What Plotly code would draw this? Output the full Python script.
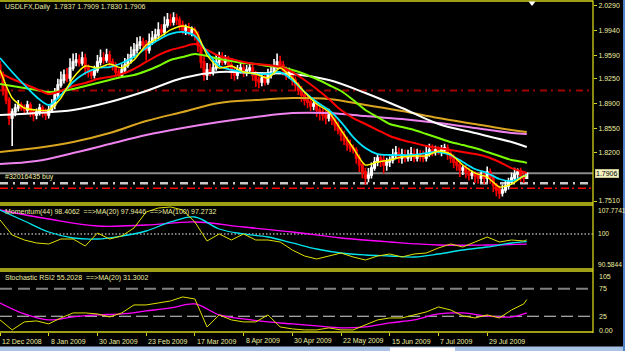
import plotly.graph_objects as go

W, H = 625, 351

# ---------------- data ----------------
tick_index = [0, 16, 32, 48, 64, 80, 96, 112, 128, 144, 160]
tick_labels = ["12 Dec 2008", "8 Jan 2009", "30 Jan 2009", "23 Feb 2009", "17 Mar 2009",
               "8 Apr 2009", "30 Apr 2009", "22 May 2009", "15 Jun 2009", "7 Jul 2009", "29 Jul 2009"]

first_open = 1.9449
close = [
    1.9306, 1.9093, 1.8950, 1.8693, 1.8779, 1.8836, 1.8879, 1.8836, 1.8807, 1.8879,
    1.8779, 1.8736, 1.8779, 1.8836, 1.8779, 1.8736, 1.8807, 1.8879, 1.9021, 1.9164,
    1.9235, 1.9306, 1.9264, 1.9406, 1.9492, 1.9520, 1.9477, 1.9549, 1.9406, 1.9349,
    1.9306, 1.9378, 1.9492, 1.9549, 1.9520, 1.9591, 1.9492, 1.9449, 1.9349, 1.9306,
    1.9378, 1.9449, 1.9520, 1.9591, 1.9663, 1.9734, 1.9777, 1.9734, 1.9663, 1.9777,
    1.9834, 1.9877, 1.9948, 1.9919, 2.0019, 2.0090, 2.0062, 2.0119, 2.0090, 2.0019,
    1.9948, 1.9976, 1.9919, 1.9948, 1.9877, 1.9734, 1.9492, 1.9306, 1.9378, 1.9349,
    1.9406, 1.9492, 1.9549, 1.9492, 1.9520, 1.9449, 1.9349, 1.9306, 1.9378, 1.9406,
    1.9349, 1.9378, 1.9406, 1.9306, 1.9235, 1.9207, 1.9264, 1.9207, 1.9306, 1.9349,
    1.9435, 1.9492, 1.9449, 1.9378, 1.9306, 1.9349, 1.9235, 1.9164, 1.9093, 1.9021,
    1.8950, 1.8921, 1.8864, 1.8893, 1.8807, 1.8779, 1.8736, 1.8693, 1.8736, 1.8665,
    1.8593, 1.8522, 1.8451, 1.8380, 1.8308, 1.8266, 1.8237, 1.8123, 1.8023, 1.7923,
    1.7838, 1.7881, 1.7980, 1.8066, 1.8123, 1.8095, 1.8023, 1.8066, 1.8095, 1.8166,
    1.8194, 1.8123, 1.8166, 1.8123, 1.8152, 1.8180, 1.8123, 1.8166, 1.8152, 1.8123,
    1.8180, 1.8237, 1.8209, 1.8237, 1.8209, 1.8237, 1.8266, 1.8180, 1.8123, 1.8066,
    1.8023, 1.7952, 1.7980, 1.7923, 1.7881, 1.7895, 1.7866, 1.7838, 1.7866, 1.7838,
    1.7923, 1.7838, 1.7738, 1.7667, 1.7624, 1.7667, 1.7724, 1.7781, 1.7838, 1.7895,
    1.7923, 1.7866, 1.7837, 1.7906,
]
# wick lengths in thousandths of a price unit
upper_wick = [
    6, 5, 8, 4, 5, 6, 7, 4, 5, 6,
    4, 3, 5, 6, 4, 5, 6, 8, 10, 9,
    12, 8, 10, 14, 12, 10, 8, 9, 6, 5,
    4, 6, 10, 12, 8, 9, 6, 5, 4, 5,
    8, 10, 9, 12, 10, 11, 8, 6, 7, 12,
    10, 9, 11, 8, 12, 10, 9, 8, 6, 5,
    6, 5, 7, 5, 4, 5, 6, 8, 10, 9,
    12, 10, 9, 8, 7, 6, 5, 8, 7, 9,
    6, 7, 8, 5, 6, 5, 7, 6, 9, 8,
    10, 12, 9, 6, 5, 6, 4, 5, 4, 6,
    5, 7, 5, 6, 5, 4, 5, 6, 9, 5,
    4, 5, 4, 6, 5, 8, 5, 4, 5, 4,
    6, 10, 8, 7, 6, 5, 7, 6, 5, 9,
    10, 8, 9, 8, 9, 10, 8, 9, 7, 8,
    12, 9, 8, 6, 5, 7, 6, 5, 4, 5,
    6, 5, 4, 5, 6, 5, 4, 5, 6, 7,
    8, 5, 4, 3, 6, 8, 7, 6, 8, 9,
    5, 6, 7, 0.3,
]
lower_wick = [
    5, 8, 6, 10, 40, 6, 5, 4, 6, 5,
    7, 9, 6, 5, 8, 7, 5, 4, 6, 5,
    4, 5, 6, 5, 4, 6, 5, 4, 10, 8,
    6, 5, 4, 5, 6, 4, 7, 8, 6, 5,
    4, 5, 4, 5, 4, 5, 6, 8, 15, 5,
    4, 5, 6, 4, 5, 4, 6, 5, 7, 8,
    6, 7, 5, 6, 8, 10, 9, 8, 7, 6,
    5, 4, 6, 5, 4, 7, 10, 8, 6, 5,
    7, 6, 5, 8, 10, 9, 6, 5, 4, 5,
    4, 5, 6, 8, 7, 5, 8, 9, 7, 10,
    8, 9, 7, 6, 10, 12, 8, 9, 5, 7,
    8, 6, 9, 7, 8, 6, 5, 8, 10, 9,
    10, 6, 5, 4, 6, 10, 12, 8, 7, 5,
    6, 7, 8, 6, 5, 7, 6, 5, 8, 6,
    5, 4, 6, 5, 4, 6, 5, 8, 7, 9,
    8, 10, 7, 9, 8, 6, 10, 8, 7, 9,
    6, 8, 10, 9, 8, 5, 4, 5, 4, 5,
    6, 8, 7, 0.7,
]

fast_idx = list(range(0, 173, 4)) + [173]
mid_idx = list(range(0, 169, 8)) + [173]
slow_idx = list(range(0, 169, 12)) + [173]
mom_slow_idx = list(range(0, 161, 16)) + [173]

ma_yellow = [1.9378, 1.8979, 1.8836, 1.8807, 1.8807, 1.8979, 1.9264, 1.9435, 1.9406, 1.9463,
             1.9406, 1.9520, 1.9734, 1.9834, 1.9948, 2.0005, 1.9948, 1.9591, 1.9406, 1.9435,
             1.9349, 1.9321, 1.9264, 1.9406, 1.9264, 1.9064, 1.8893, 1.8779, 1.8522, 1.8266,
             1.8023, 1.8066, 1.8095, 1.8137, 1.8152, 1.8152, 1.8223, 1.8180, 1.8023, 1.7909,
             1.7852, 1.7710, 1.7752, 1.7866, 1.7866]
ma_cyan = [1.9549, 1.9349, 1.9164, 1.8993, 1.8879, 1.9021, 1.9207, 1.9335, 1.9406, 1.9420,
           1.9477, 1.9563, 1.9691, 1.9805, 1.9891, 1.9919, 1.9862, 1.9634, 1.9435, 1.9378,
           1.9349, 1.9321, 1.9321, 1.9349, 1.9235, 1.9064, 1.8921, 1.8807, 1.8636, 1.8422,
           1.8266, 1.8180, 1.8166, 1.8166, 1.8166, 1.8194, 1.8209, 1.8166, 1.8066, 1.7966,
           1.7909, 1.7824, 1.7795, 1.7866, 1.7881]
ma_red = [1.9335, 1.9249, 1.9178, 1.9107, 1.9036, 1.9078, 1.9150, 1.9192, 1.9249, 1.9278,
          1.9321, 1.9392, 1.9492, 1.9591, 1.9663, 1.9705, 1.9748, 1.9663, 1.9577, 1.9534,
          1.9492, 1.9463, 1.9449, 1.9420, 1.9349, 1.9235, 1.9107, 1.8964, 1.8807, 1.8693,
          1.8608, 1.8522, 1.8437, 1.8380, 1.8337, 1.8294, 1.8266, 1.8237, 1.8209, 1.8180,
          1.8137, 1.8066, 1.7980, 1.7923, 1.7909]
ma_green = [1.9178, 1.9150, 1.9121, 1.9093, 1.9064, 1.9078, 1.9107, 1.9150, 1.9192, 1.9235,
            1.9278, 1.9306, 1.9363, 1.9435, 1.9520, 1.9563, 1.9606, 1.9577, 1.9534, 1.9506,
            1.9477, 1.9463, 1.9435, 1.9420, 1.9378, 1.9321, 1.9249, 1.9164, 1.9078, 1.8950,
            1.8807, 1.8707, 1.8608, 1.8565, 1.8522, 1.8465, 1.8408, 1.8351, 1.8308, 1.8266,
            1.8209, 1.8152, 1.8095, 1.8066, 1.8052]
ma_white = [1.8736, 1.8765, 1.8807, 1.8921, 1.9078, 1.9264, 1.9349, 1.9335, 1.9321, 1.9235,
            1.9050, 1.8836, 1.8608, 1.8479, 1.8351, 1.8280]
ma_orange = [1.8209, 1.8266, 1.8351, 1.8479, 1.8650, 1.8779, 1.8907, 1.8950, 1.8978, 1.8964,
             1.8879, 1.8793, 1.8693, 1.8608, 1.8522, 1.8494]
ma_pink = [1.8038, 1.8080, 1.8194, 1.8323, 1.8451, 1.8551, 1.8636, 1.8707, 1.8764, 1.8764,
           1.8722, 1.8679, 1.8622, 1.8551, 1.8480, 1.8466]

momentum = [103.75, 99.72, 98.37, 97.57, 97.30, 98.64, 98.64, 96.76, 100.25, 98.64,
            99.45, 101.60, 105.89, 106.97, 107.24, 106.43, 103.21, 98.11, 99.99, 98.37,
            99.99, 98.37, 98.37, 97.84, 95.69, 94.08, 93.27, 94.08, 94.88, 93.81,
            93.00, 94.08, 94.61, 93.81, 94.61, 94.88, 96.23, 97.30, 96.49, 97.84,
            99.18, 97.84, 98.37, 98.11, 98.41]
mom_ma20 = [106.43, 103.48, 100.52, 98.91, 98.64, 99.45, 100.79, 103.21, 104.55, 101.33,
            99.99, 99.18, 97.57, 95.96, 94.88, 94.35, 94.08, 93.81, 94.61, 95.69,
            96.49, 97.57, 97.94]
mom_ma100 = [106.43, 104.01, 102.13, 102.40, 103.21, 101.87, 100.52, 98.91, 97.84, 97.03,
             97.03, 97.27]

stoch = [18.3, 0.2, 14.7, 16.5, 11.1, 21.9, 31.0, 31.0, 29.2, 23.7,
         31.0, 45.5, 45.5, 49.1, 52.7, 60.0, 56.3, 5.6, 27.4, 18.3,
         14.7, 14.7, 27.4, 5.6, 2.0, 0.2, 0.2, 3.8, 0.2, 0.2,
         9.2, 18.3, 21.9, 21.9, 27.4, 32.8, 41.8, 36.4, 25.5, 21.9,
         27.4, 21.9, 36.4, 47.3, 55.2]
stoch_ma20 = [49.1, 29.2, 18.3, 23.7, 27.4, 29.2, 34.6, 40.0, 47.3, 27.4,
              20.1, 14.7, 11.1, 7.4, 3.8, 5.6, 12.9, 18.3, 29.2, 31.0,
              25.5, 23.7, 31.3]

price_ticks = [2.0290, 1.9940, 1.9590, 1.9250, 1.8900, 1.8550, 1.8200, 1.7510]
mom_ticks = [107.7741, 100, 90.5844]
mom_tick_text = ["107.7741", "100", "90.5844"]
stoch_ticks = [105, 75, 25, 0]
stoch_tick_text = ["105", "75", "25", "0.00"]

level_red = 1.9085
bid = 1.7906
order_price = 1.7762
order_sl = 1.7691
order_label = "#32016435 buy"
title = "USDLFX,Daily  1.7837 1.7909 1.7830 1.7906"
mom_title = "Momentum(44) 98.4062  ==>MA(20) 97.9446  ==>MA(100) 97.2732"
stoch_title = "Stochastic RSI2 55.2028  ==>MA(20) 31.3002"

# ---------------- derived OHLC ----------------
n = len(close)
idx = list(range(n))
opens = [first_open] + close[:-1]
highs = [max(o, c) + u / 1000 for o, c, u in zip(opens, close, upper_wick)]
lows = [min(o, c) - l / 1000 for o, c, l in zip(opens, close, lower_wick)]

FG = "#d4d41c"
TXT = "#eeeea0"
FONT = "Liberation Sans"
FS = 7
AX = 593  # pixel x of the price axis line


def py(p):
    return 1 - p / H


def px(p):
    return p / W


fig = go.Figure()
fig.add_trace(go.Candlestick(
    x=idx, open=opens, high=highs, low=lows, close=close,
    increasing=dict(line=dict(color="#ffffff", width=1.6), fillcolor="#ffffff"),
    decreasing=dict(line=dict(color="#ff0000", width=1.6), fillcolor="#ff0000"),
    whiskerwidth=0, xaxis="x", yaxis="y", hoverinfo="skip"))

for xs, ys, col, w, sm in [
    (slow_idx, ma_pink, "#ee82ee", 2, 1.0),
    (slow_idx, ma_orange, "#daa520", 2, 1.0),
    (slow_idx, ma_white, "#ffffff", 2, 1.0),
    (fast_idx, ma_green, "#7cfc00", 2, 0.8),
    (fast_idx, ma_red, "#ff0000", 2, 0.8),
    (fast_idx, ma_cyan, "#00e5ff", 1.8, 0.8),
    (fast_idx, ma_yellow, "#ffff00", 1.4, 0.6),
]:
    fig.add_trace(go.Scatter(x=xs, y=ys, mode="lines", xaxis="x", yaxis="y",
                             line=dict(color=col, width=w, shape="spline", smoothing=sm),
                             hoverinfo="skip"))

fig.add_trace(go.Scatter(x=mom_slow_idx, y=mom_ma100, mode="lines", yaxis="y2",
                         line=dict(color="#ff00ff", width=1.3, shape="spline", smoothing=1.0)))
fig.add_trace(go.Scatter(x=mid_idx, y=mom_ma20, mode="lines", yaxis="y2",
                         line=dict(color="#00e5ee", width=1.3, shape="spline", smoothing=1.0)))
fig.add_trace(go.Scatter(x=fast_idx, y=momentum, mode="lines", yaxis="y2",
                         line=dict(color="#e0e000", width=1)))

fig.add_trace(go.Scatter(x=mid_idx, y=stoch_ma20, mode="lines", yaxis="y3",
                         line=dict(color="#ff00ff", width=1.3, shape="spline", smoothing=1.0)))
fig.add_trace(go.Scatter(x=fast_idx, y=stoch, mode="lines", yaxis="y3",
                         line=dict(color="#e0e000", width=1)))

XE = px(AX)
shapes = []
# level lines
shapes.append(dict(type="line", xref="paper", yref="y", x0=0, x1=XE, y0=level_red, y1=level_red,
                   line=dict(color="#a00000", width=2, dash="7px,4px,2px,5px"), layer="below"))
shapes.append(dict(type="line", xref="paper", yref="y", x0=0, x1=XE, y0=bid, y1=bid,
                   line=dict(color="#8a8a8a", width=2), layer="below"))
shapes.append(dict(type="line", xref="paper", yref="y", x0=0, x1=XE, y0=order_price, y1=order_price,
                   line=dict(color="#c8c8c8", width=2.5, dash="8px,5px,2px,5px"), layer="below"))
shapes.append(dict(type="line", xref="paper", yref="y", x0=0, x1=XE, y0=order_sl, y1=order_sl,
                   line=dict(color="#ff0000", width=1.5, dash="8px,3px,2px,4px"), layer="below"))
shapes.append(dict(type="line", xref="paper", yref="y2", x0=0, x1=XE, y0=100, y1=100,
                   line=dict(color="#a8a8a8", width=1.5, dash="1.5px,2px"), layer="below"))
shapes.append(dict(type="line", xref="paper", yref="y3", x0=0, x1=XE, y0=75, y1=75,
                   line=dict(color="#808080", width=2, dash="12px,6px"), layer="below"))
shapes.append(dict(type="line", xref="paper", yref="y3", x0=0, x1=XE, y0=25, y1=25,
                   line=dict(color="#d8d8d8", width=1, dash="12px,5px"), layer="below"))

# panel frames
for yy in [1, 203, 205, 269, 271, 332]:
    shapes.append(dict(type="line", xref="paper", yref="paper", x0=0, x1=XE,
                       y0=py(yy), y1=py(yy), line=dict(color=FG, width=1.3)))
shapes.append(dict(type="line", xref="paper", yref="paper", x0=XE, x1=XE,
                   y0=py(333), y1=py(0.5), line=dict(color=FG, width=1.3)))
# shift marker triangle
tx, ty = px(532), py(1.5)
shapes.append(dict(type="path", xref="paper", yref="paper",
                   path=f"M {tx - px(3.5)} {ty} L {tx + px(3.5)} {ty} L {tx} {py(6)} Z",
                   fillcolor="#ffffff", line=dict(color="#ffffff", width=0)))
# window edges
shapes.append(dict(type="rect", xref="paper", yref="paper", x0=0, x1=1, y0=0, y1=py(346.5),
                   fillcolor="#a9c3e6", line=dict(width=0)))
shapes.append(dict(type="rect", xref="paper", yref="paper", x0=px(390), x1=px(455), y0=0, y1=py(347.5),
                   fillcolor="#ffffff", line=dict(width=0)))
shapes.append(dict(type="rect", xref="paper", yref="paper", x0=px(623), x1=1, y0=0, y1=1,
                   fillcolor="#4f81c7", line=dict(width=0)))

annotations = []
for txt, yy in [(title, 7), (mom_title, 212), (stoch_title, 277.5)]:
    annotations.append(dict(text=txt, xref="paper", yref="paper", x=px(3), y=py(yy),
                            xanchor="left", yanchor="middle", showarrow=False,
                            font=dict(family=FONT, size=FS, color=TXT)))
annotations.append(dict(text=order_label, xref="paper", yref="y", x=px(3), y=order_price,
                        xanchor="left", yanchor="bottom", showarrow=False,
                        font=dict(family=FONT, size=FS, color=TXT)))
for ti, tl in zip(tick_index, tick_labels):
    annotations.append(dict(text=tl, xref="x", yref="paper", x=ti, y=py(341),
                            xanchor="left", yanchor="middle", xshift=0, showarrow=False,
                            font=dict(family=FONT, size=FS, color=TXT)))
for v, t in zip(mom_ticks, mom_tick_text):
    shift = -5 if v == mom_ticks[0] else (5 if v == mom_ticks[-1] else 0)
    annotations.append(dict(text=t, xref="paper", yref="y2", x=px(596), y=v, yshift=shift,
                            xanchor="left", yanchor="middle", showarrow=False,
                            font=dict(family=FONT, size=6.6, color=TXT)))
for v, t in zip(stoch_ticks, stoch_tick_text):
    shift = -4 if v == stoch_ticks[0] else 0
    annotations.append(dict(text=t, xref="paper", yref="y3", x=px(597), y=v, yshift=shift,
                            xanchor="left", yanchor="middle", showarrow=False,
                            font=dict(family=FONT, size=FS, color=TXT)))
# current price label
annotations.append(dict(text=f"{bid:.4f}", xref="paper", yref="y", x=px(595), y=bid,
                        xanchor="left", yanchor="middle", showarrow=False,
                        bgcolor="#f0f0c0", bordercolor="#c8c890", borderwidth=1, borderpad=0,
                        font=dict(family=FONT, size=FS, color="#000000")))

axis_common = dict(showgrid=False, zeroline=False, showline=False, fixedrange=True)

fig.update_layout(
    width=W, height=H, margin=dict(l=0, r=0, t=0, b=0),
    paper_bgcolor="#000000", plot_bgcolor="#000000", showlegend=False,
    xaxis=dict(domain=[0, px(AX)], range=[0.0, 194.75], anchor="y3",
               ticks="outside", ticklen=3, tickcolor=FG, tickwidth=1, tickvals=tick_index,
               showticklabels=False, rangeslider=dict(visible=False), **axis_common),
    yaxis=dict(domain=[py(203), py(1)], range=[1.7482, 2.0361], anchor="x", side="right",
               ticks="outside", ticklen=3, tickcolor=FG, tickvals=price_ticks,
               ticktext=[f"{v:.4f}" for v in price_ticks],
               tickfont=dict(family=FONT, size=FS, color=TXT), **axis_common),
    yaxis2=dict(domain=[py(269), py(205)], range=[90.5844, 107.7741], anchor="x", side="right",
                showticklabels=False, **axis_common),
    yaxis3=dict(domain=[py(332), py(271)], range=[-3.6, 107.1], anchor="x", side="right",
                showticklabels=False, **axis_common),
    shapes=shapes, annotations=annotations,
)

fig.write_html("out.html")
